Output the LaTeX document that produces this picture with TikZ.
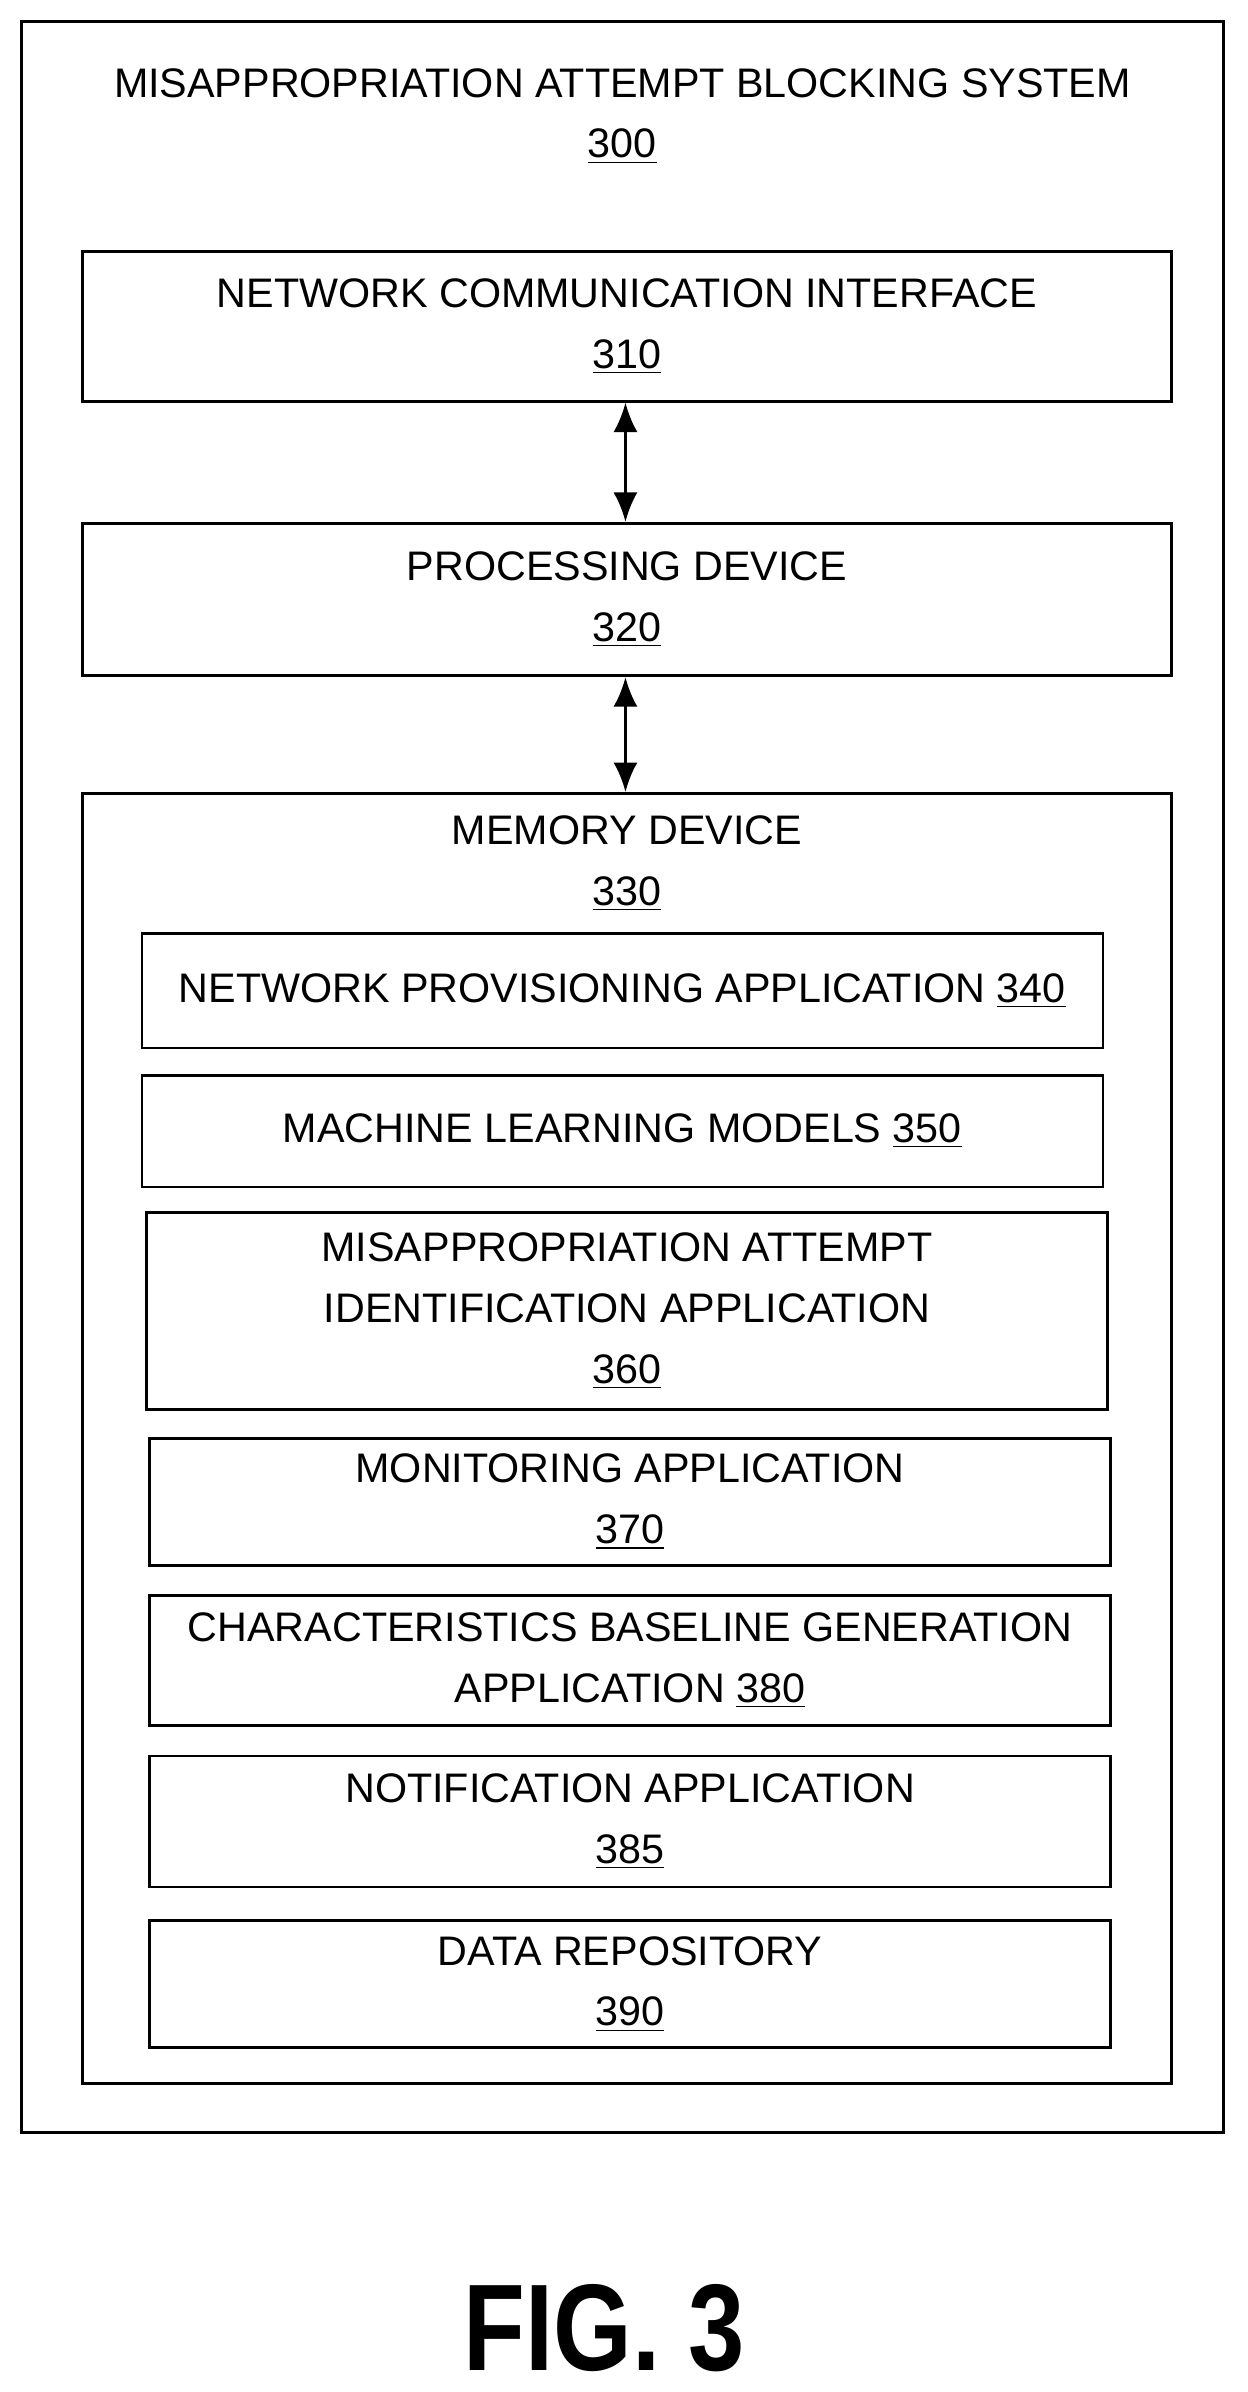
\documentclass[tikz,border=0pt]{standalone}
\usepackage{fontspec}
\setmainfont{Liberation Sans}
\usetikzlibrary{arrows.meta}
\tikzset{
  blk/.style={draw, line width=1pt, inner sep=0pt, align=center,
    font=\fontsize{15.4}{22.7}\selectfont},
  lbl/.style={align=center, font=\fontsize{15.4}{22.7}\selectfont},
  link/.style={line width=1.2pt, {Latex[length=11pt,width=9pt]}-{Latex[length=11pt,width=9pt]}}
}
\begin{document}
\begin{tikzpicture}[x=0.02cm,y=-0.02cm]
  \useasboundingbox (0,0) rectangle (818,1568);

  % Outer system
  \node [blk, minimum width=15.76cm, minimum height=27.68cm] (sys) at (408,706) {};
  \node [lbl] (systxt) at (408,76) {MISAPPROPRIATION ATTEMPT BLOCKING SYSTEM\\\underline{300}};

  % Interface and processor
  \node [blk, minimum width=14.28cm, minimum height=1.96cm] (nci) at (411,214)
    {NETWORK COMMUNICATION INTERFACE\\\underline{310}};
  \node [blk, minimum width=14.28cm, minimum height=2.0cm] (pd) at (411,393)
    {PROCESSING DEVICE\\\underline{320}};

  % Memory
  \node [blk, minimum width=14.28cm, minimum height=16.92cm] (mem) at (411,943) {};
  \node [lbl] (memtxt) at (411,566) {MEMORY DEVICE\\\underline{330}};

  \node [blk, minimum width=12.6cm, minimum height=1.5cm] (npa) at (408,649.5)
    {NETWORK PROVISIONING APPLICATION \underline{340}};
  \node [blk, minimum width=12.6cm, minimum height=1.46cm] (mlm) at (408,741.5)
    {MACHINE LEARNING MODELS \underline{350}};
  \node [blk, minimum width=12.6cm, minimum height=2.58cm] (mai) at (411,859.5)
    {MISAPPROPRIATION ATTEMPT\\IDENTIFICATION APPLICATION\\\underline{360}};
  \node [blk, minimum width=12.6cm, minimum height=1.66cm] (mon) at (413,984.5)
    {MONITORING APPLICATION\\\underline{370}};
  \node [blk, minimum width=12.6cm, minimum height=1.7cm] (cbg) at (413,1088.5)
    {CHARACTERISTICS BASELINE GENERATION\\APPLICATION \underline{380}};
  \node [blk, minimum width=12.6cm, minimum height=1.72cm] (nap) at (413,1194)
    {NOTIFICATION APPLICATION\\\underline{385}};
  \node [blk, minimum width=12.6cm, minimum height=1.66cm] (drp) at (413,1300.5)
    {DATA REPOSITORY\\\underline{390}};

  % Links
  \draw [link] ([xshift=-0.02cm]nci.south) -- ([xshift=-0.02cm]pd.north);
  \draw [link] ([xshift=-0.02cm]pd.south) -- ([xshift=-0.02cm]mem.north);

  % Caption
  \node [font=\bfseries\fontsize{46}{46}\selectfont, xscale=0.82] (fig) at (396,1526) {FIG. 3};
\end{tikzpicture}
\end{document}
